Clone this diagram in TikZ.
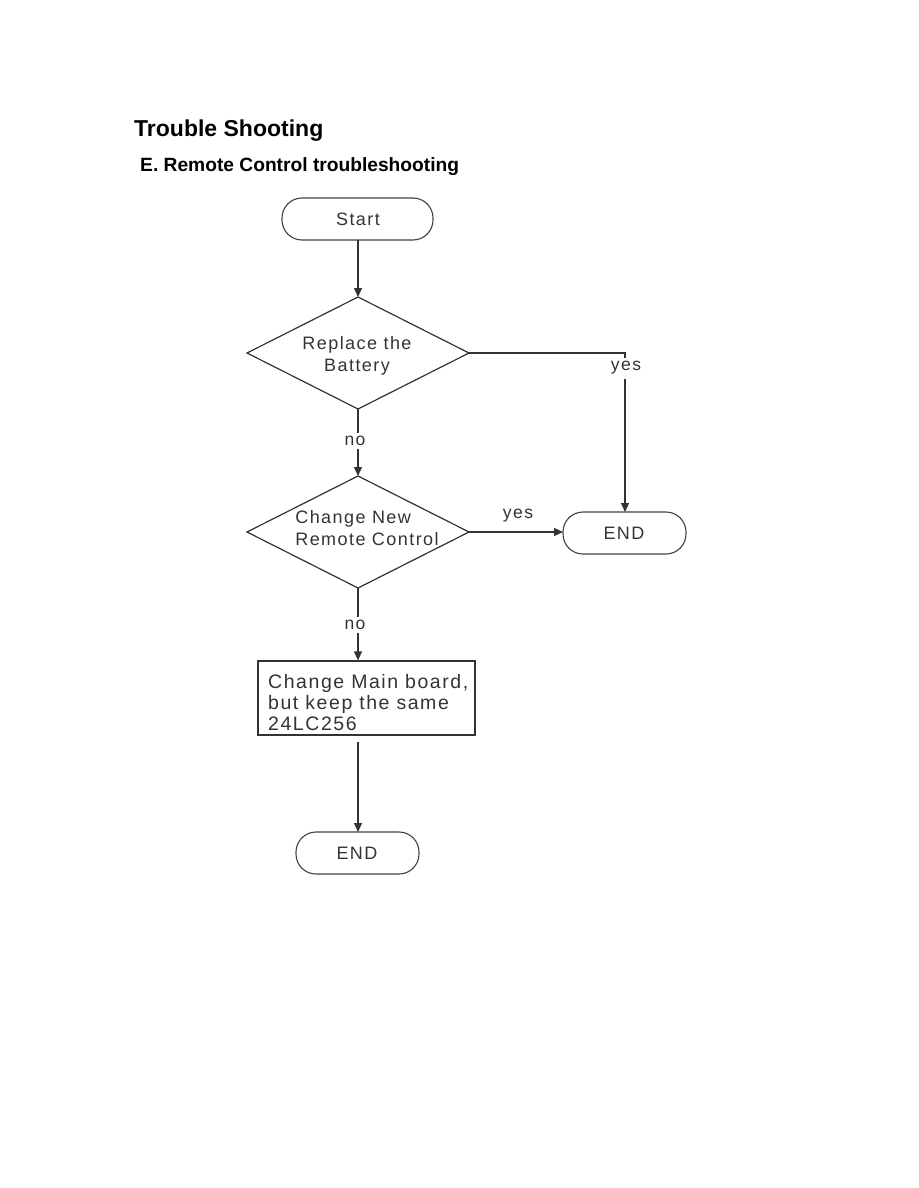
\documentclass[tikz,border=0pt]{standalone}
\usepackage{fontspec}
\setmainfont{Liberation Sans}
\newfontfamily\diafont[LetterSpace=8]{Liberation Sans}
\usetikzlibrary{shapes.geometric,arrows.meta}
\begin{document}
\begin{tikzpicture}[x=1pt,y=-1pt,
  line/.style={draw=black!80,line width=1.2pt},
  arr/.style={line,-{Triangle[length=9pt,width=8pt]}},
  term/.style={draw=black!75,line width=1.1pt,rounded corners=20pt,inner sep=0pt},
  lbl/.style={font=\diafont\fontsize{17.5}{18}\selectfont,text=black!80},
  txt/.style={font=\diafont\fontsize{18}{22}\selectfont,text=black!80,align=center}]
\useasboundingbox (0,0) rectangle (918,1188);
\node[anchor=west,font=\bfseries\fontsize{23}{26}\selectfont,inner sep=0pt] (title) at (134,131) {Trouble Shooting};
\node[anchor=west,font=\bfseries\fontsize{19.2}{22}\selectfont,inner sep=0pt] (sub) at (140,167) {E. Remote Control troubleshooting};
% Start
\draw[term] (282,198) rectangle (433,240);
\coordinate (startb) at (358,240);
\node[txt] (start) at (358,219) {Start};
% Diamond 1
\draw[line] (358,297) -- (469,353) -- (358,409) -- (247,353) -- cycle;
\coordinate (d1t) at (358,297);
\coordinate (d1r) at (469,353);
\coordinate (d1b) at (358,409);
\node[txt] (d1) at (357,356) {Replace the\\Battery};
% Diamond 2
\draw[line] (358,476) -- (469,532) -- (358,588) -- (247,532) -- cycle;
\coordinate (d2t) at (358,476);
\coordinate (d2r) at (469,532);
\coordinate (d2b) at (358,588);
\node[txt,align=left] (d2) at (367,528) {Change New\\Remote Control};
% END right
\draw[term] (563,512) rectangle (686,554);
\coordinate (e1t) at (625,512);
\coordinate (e1l) at (563,532);
\node[txt] (e1) at (624,533) {END};
% Box
\node[draw=black!80,line width=1.2pt,minimum width=217pt,minimum height=74pt,inner sep=0pt] (box) at (366.5,698) {};
\node[txt,align=left,anchor=north west,inner sep=0pt,font=\diafont\fontsize{19.5}{21}\selectfont] (boxt) at (268,674) {Change Main board,\\but keep the same\\24LC256};
% END bottom
\draw[term] (296,832) rectangle (419,874);
\coordinate (e2t) at (358,832);
\node[txt] (e2) at (357,853) {END};
% connectors
\draw[arr] (startb) -- (d1t);
\coordinate (c1) at (625,353);
\draw[line] (d1r) -- (c1) -- (625,358);
\node[lbl] (y1) at (626,368) {yes};
\draw[arr] (625,379) -- (e1t);
\node[lbl] (n1) at (355,441) {no};
\draw[line] (d1b) -- (d1b |- n1.north);
\draw[arr] (d2t |- n1.south) -- (d2t);
\draw[arr] (d2r) -- (e1l);
\node[lbl] (y2) at (518,516) {yes};
\node[lbl] (n2) at (355,625) {no};
\draw[line] (d2b) -- (d2b |- n2.north);
\draw[arr] (d2b |- n2.south) -- (d2b |- box.north);
\draw[arr] (d2b |- 0,742) -- (e2t);
\end{tikzpicture}
\end{document}
